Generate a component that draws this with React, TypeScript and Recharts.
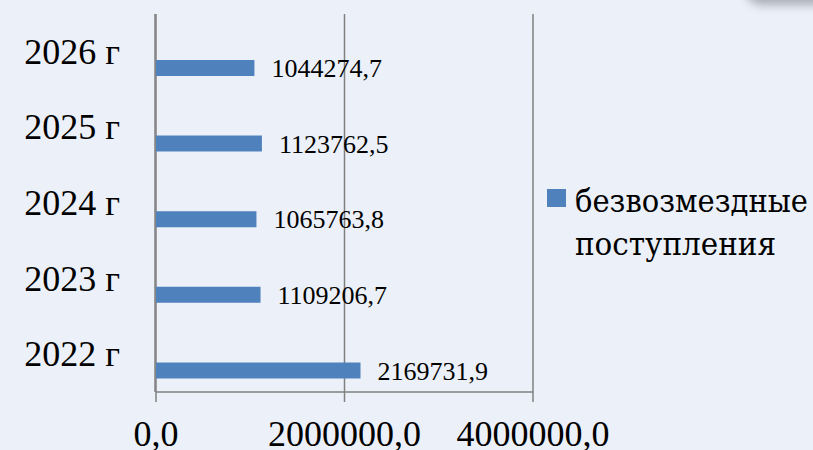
import React from "react";
import { BarChart, Bar, XAxis, YAxis, CartesianGrid, Legend, LabelList } from "recharts";

const years = ["2022 г", "2023 г", "2024 г", "2025 г", "2026 г"];
const grants = [2169731.9, 1109206.7, 1065763.8, 1123762.5, 1044274.7];
const seriesName = "безвозмездные поступления";
const legendLines = ["безвозмездные", "поступления"];
const legendWidths = [233, 201];
const xTicks = [0, 2000000, 4000000];
const bandBounds = [0, 1, 2, 3, 4, 5];

const data = years.map((year, i) => ({ year, value: grants[i], blank: null }));

const FONT = "'Liberation Serif', 'DejaVu Serif', serif";
const CYR_FONT = "'DejaVu Serif', serif";
const AXIS = "#808080";
const BAR = "#4F81BD";

const fmt = (v: any) => (v == null ? "" : Number(v).toFixed(1).replace(".", ","));

const CatTick = (props: any) => {
  const { x, y, payload } = props;
  return (
    <text x={x} y={y} dy={12} textAnchor="end" fontSize={36} fontFamily={FONT} fill="#000">
      {payload.value}
    </text>
  );
};

const XTick = (props: any) => {
  const { x, y, payload } = props;
  return (
    <text x={x} y={y} dy={42} textAnchor="middle" fontSize={36} fontFamily={FONT} fill="#000">
      {fmt(payload.value)}
    </text>
  );
};

const LegendContent = (props: any) => {
  const items = (props.payload || []).filter((p: any) => p.type !== "none");
  return (
    <svg width={266} height={90} style={{ display: "block" }}>
      {items.map((it: any, i: number) => (
        <g key={i}>
          <rect x={0} y={9} width={19} height={18} fill={it.color} />
          {legendLines.map((ln, j) => (
            <text
              key={j}
              x={28}
              y={32 + j * 43}
              fontSize={32}
              style={{ fontFamily: CYR_FONT }}
              textLength={legendWidths[j]}
              lengthAdjust="spacingAndGlyphs"
              fill="#000"
            >
              {ln}
            </text>
          ))}
        </g>
      ))}
    </svg>
  );
};

export default function App() {
  return (
    <div
      style={{
        position: "absolute",
        left: 0,
        top: 0,
        width: 813,
        height: 450,
        background: "#ECF0F8",
        overflow: "hidden",
      }}
    >
      <div
        style={{
          position: "absolute",
          left: 748,
          top: -40,
          width: 140,
          height: 40,
          borderRadius: 14,
          boxShadow: "0 2px 10px 3px rgba(90,95,105,0.45)",
          background: "#ECF0F8",
        }}
      />
      <BarChart
        width={813}
        height={450}
        data={data}
        layout="vertical"
        margin={{ top: 14, right: 280, bottom: 0, left: 154 }}
        barGap={17}
        style={{ position: "absolute", left: 0, top: 0 }}
      >
        <CartesianGrid horizontal={false} stroke={AXIS} strokeWidth={1.5} />
        <XAxis
          type="number"
          domain={[0, 4000000]}
          ticks={xTicks}
          allowDataOverflow
          height={58}
          tickSize={10}
          tickMargin={2}
          stroke={AXIS}
          strokeWidth={1.5}
          tick={<XTick />}
          interval={0}
        />
        <YAxis
          yAxisId="b"
          type="number"
          domain={[0, 5]}
          ticks={bandBounds}
          allowDataOverflow
          width={1}
          tickSize={10}
          tick={false}
          stroke={AXIS}
          strokeWidth={1.5}
          interval={0}
        />
        <YAxis
          type="category"
          dataKey="year"
          reversed
          width={1}
          tickLine={false}
          axisLine={false}
          tickSize={0}
          tickMargin={36}
          tick={<CatTick />}
          interval={0}
        />
        <Legend
          layout="horizontal"
          verticalAlign="middle"
          align="center"
          wrapperStyle={{ left: 547, top: 180, width: 266, height: 90 }}
          content={<LegendContent />}
        />
        <Bar dataKey="blank" name="" fill="transparent" barSize={16} legendType="none" isAnimationActive={false} />
        <Bar dataKey="value" name={seriesName} fill={BAR} barSize={16} isAnimationActive={false}>
          <LabelList
            dataKey="value"
            position="right"
            offset={17}
            formatter={fmt}
            fontSize={26}
            fontFamily={FONT}
            fill="#000"
          />
        </Bar>
      </BarChart>
    </div>
  );
}
